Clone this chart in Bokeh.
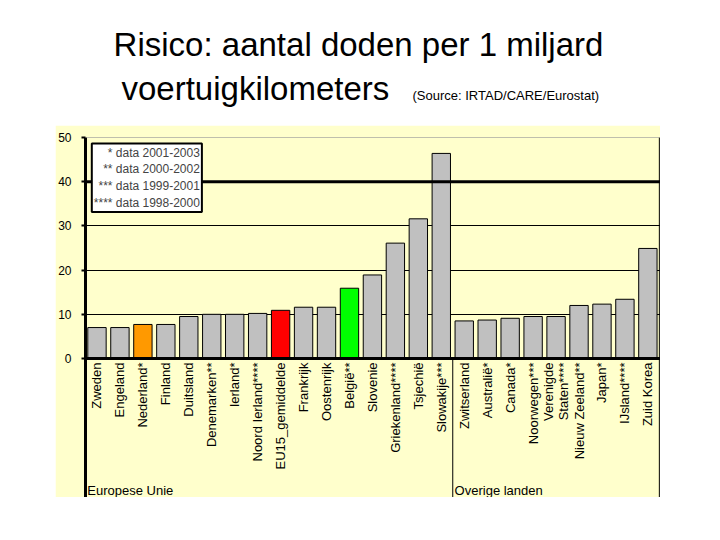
import math
from bokeh.plotting import figure
from bokeh.models import ColumnDataSource, FixedTicker, Range1d, Label, Span, Spacer
from bokeh.layouts import column, row
from bokeh.core.properties import value
from bokeh.embed import file_html
from bokeh.resources import INLINE

# ---- data ----
countries = ["Zweden", "Engeland", "Nederland*", "Finland", "Duitsland", "Denemarken**",
             "Ierland*", "Noord Ierland****", "EU15_gemiddelde", "Frankrijk", "Oostenrijk",
             "België**", "Slovenie", "Griekenland****", "Tsjechië", "Slowakije***",
             "Zwitserland", "Australië*", "Canada*", "Noorwegen***", "Verenigde\nStaten****",
             "Nieuw Zeeland**", "Japan*", "IJsland****", "Zuid Korea"]
deaths = [7.0, 7.0, 7.7, 7.7, 9.5, 10.0, 10.0, 10.2, 10.9, 11.6, 11.6, 15.9, 18.9, 26.1,
          31.6, 46.4, 8.5, 8.7, 9.1, 9.5, 9.5, 12.0, 12.3, 13.4, 24.9]
bar_colors = ["#C0C0C0", "#C0C0C0", "#FF9900", "#C0C0C0", "#C0C0C0", "#C0C0C0", "#C0C0C0",
              "#C0C0C0", "#FF0000", "#C0C0C0", "#C0C0C0", "#00FF00", "#C0C0C0", "#C0C0C0",
              "#C0C0C0", "#C0C0C0", "#C0C0C0", "#C0C0C0", "#C0C0C0", "#C0C0C0", "#C0C0C0",
              "#C0C0C0", "#C0C0C0", "#C0C0C0", "#C0C0C0"]
n_eu = 16
y_ticks = [0, 10, 20, 30, 40, 50]
legend_lines = ["* data 2001-2003", "** data 2000-2002", "*** data 1999-2001", "**** data 1998-2000"]
group_labels = ["Europese Unie", "Overige landen"]
title_line1 = "Risico: aantal doden per 1 miljard"
title_line2 = "voertuigkilometers"
source_text = "(Source: IRTAD/CARE/Eurostat)"

FONT = "Liberation Sans"
YELLOW = "#FFFFCC"

# ---- geometry (page pixels) ----
PANEL_L, PANEL_T, PANEL_R, PANEL_B = 55, 125, 660, 497
FRAME_L, FRAME_T = 82, 137
Y0_PX = 358                      # pixel row of value 0
n = len(countries)
YMAX = 50
px_y = (Y0_PX - FRAME_T) / YMAX
y_low = -(PANEL_B - Y0_PX) / px_y
x_high = n + 0.05
px_x = (PANEL_R - FRAME_L) / x_high


def dx(px):
    return (px - FRAME_L) / px_x


def dy(py):
    return (Y0_PX - py) / px_y


# ---- title figure ----
TW = 710
t = figure(width=TW, height=PANEL_T, x_range=Range1d(0, TW), y_range=Range1d(PANEL_T, 0),
           output_backend="svg", toolbar_location=None, min_border=0,
           x_axis_location=None, y_axis_location=None)
t.grid.visible = False
t.outline_line_color = None
t.add_layout(Label(x=358, y=44, text=title_line1, text_font=FONT, text_font_size="33px",
                   text_align="center", text_baseline="middle", text_color="black"))
t.add_layout(Label(x=121, y=88, text=title_line2, text_font=FONT, text_font_size="33px",
                   text_align="left", text_baseline="middle", text_color="black"))
t.add_layout(Label(x=412, y=95, text=source_text, text_font=FONT, text_font_size="13px",
                   text_align="left", text_baseline="middle", text_color="black"))

# ---- chart figure ----
centers = [i + 0.5 for i in range(n)]
src = ColumnDataSource(dict(x=centers, top=deaths, color=bar_colors, name=countries))

p = figure(width=PANEL_R - PANEL_L, height=PANEL_B - PANEL_T,
           x_range=Range1d(0, x_high), y_range=Range1d(y_low, YMAX),
           output_backend="svg", toolbar_location=None, x_axis_location=None,
           min_border_left=FRAME_L - PANEL_L, min_border_right=0,
           min_border_top=FRAME_T - PANEL_T, min_border_bottom=0,
           background_fill_color=YELLOW, border_fill_color=YELLOW)
p.outline_line_color = None

# grid lines
p.xgrid.visible = False
p.ygrid.ticker = FixedTicker(ticks=[10, 20, 30])
p.ygrid.grid_line_color = "black"
p.ygrid.grid_line_width = 1
p.add_layout(Span(location=40, dimension="width", line_color="black", line_width=3))
p.add_layout(Span(location=YMAX, dimension="width", line_color="#808080", line_width=1))
p.add_layout(Span(location=n, dimension="height", line_color="black", line_width=1))

# bars
p.vbar(x="x", top="top", width=0.8, bottom=0, fill_color="color",
       line_color="black", line_width=1, source=src)

# x "axis" line at zero and category labels
p.add_layout(Span(location=0, dimension="width", line_color="black", line_width=3))
p.text(x="x", y=0, text="name", source=src, angle=math.pi / 2, y_offset=4,
       text_align="right", text_baseline="middle", text_font=value(FONT),
       text_font_size="13px", text_color="black", text_line_height=1.05)

# separator between the two groups
p.segment(x0=[n_eu], y0=[0], x1=[n_eu], y1=[y_low], line_color="black", line_width=1)

# group labels
p.text(x=[0.08, n_eu + 0.08], y=[dy(497), dy(497)], text=group_labels,
       text_align="left", text_baseline="bottom", text_font=value(FONT),
       text_font_size="13px", text_color="black")

# y axis
p.yaxis.ticker = FixedTicker(ticks=y_ticks)
p.yaxis.axis_line_width = 3
p.yaxis.axis_line_color = "black"
p.yaxis.major_tick_out = 4
p.yaxis.major_tick_in = 0
p.yaxis.major_tick_line_width = 2
p.yaxis.minor_tick_line_color = None
p.yaxis.major_label_standoff = 10
p.yaxis.major_label_text_font = FONT
p.yaxis.major_label_text_font_size = "12px"
p.yaxis.major_label_text_color = "black"

# legend box
p.add_layout(Label(x=dx(199), y=dy(143), text="\n".join(legend_lines), text_font=FONT,
                   text_font_size="12px", text_align="right", text_baseline="top",
                   text_line_height=1.2, background_fill_color="white",
                   border_line_color="black", border_line_width=2, padding=2))

layout = column(t, row(Spacer(width=PANEL_L, height=PANEL_B - PANEL_T), p))
open("out.html", "w").write(file_html(layout, INLINE))
